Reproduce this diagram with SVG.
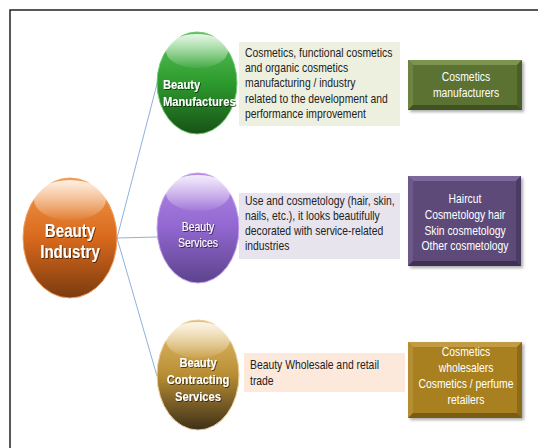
<svg xmlns="http://www.w3.org/2000/svg" width="538" height="448" viewBox="0 0 538 448">
<defs>
<style>
.frame{fill:none;stroke:#222;stroke-width:1.5}
.conn{stroke:#8fb2da;stroke-width:1;fill:none}
.desc{font-family:"Liberation Sans",Arial,sans-serif;font-size:12.5px;fill:#222}
.wt{font-family:"Liberation Sans",Arial,sans-serif;font-size:12.5px;fill:#fff;text-anchor:middle}
.et{font-family:"Liberation Sans",Arial,sans-serif;fill:#fff;font-weight:bold}
</style>
<filter id="blur" x="-20%" y="-20%" width="140%" height="140%"><feGaussianBlur stdDeviation="1.5"/></filter>
<filter id="tsh" x="-10%" y="-10%" width="120%" height="130%"><feDropShadow dx="1" dy="1" stdDeviation="0.4" flood-color="#000" flood-opacity="0.6"/></filter>
<linearGradient id="gOr" x1="0" y1="0" x2="0" y2="1"><stop offset="0" stop-color="#f59a4a"/><stop offset="0.5" stop-color="#d8691d"/><stop offset="1" stop-color="#7c3b0e"/></linearGradient>
<linearGradient id="gPu" x1="0" y1="0" x2="0" y2="1"><stop offset="0" stop-color="#b58ae8"/><stop offset="0.5" stop-color="#9166cf"/><stop offset="1" stop-color="#5c448c"/></linearGradient>
<linearGradient id="gGr" x1="0" y1="0" x2="0" y2="1"><stop offset="0" stop-color="#5cc45c"/><stop offset="0.5" stop-color="#2d9a2d"/><stop offset="1" stop-color="#175217"/></linearGradient>
<linearGradient id="gGo" x1="0" y1="0" x2="0" y2="1"><stop offset="0" stop-color="#e8c070"/><stop offset="0.5" stop-color="#b88e34"/><stop offset="1" stop-color="#3e3018"/></linearGradient>
<linearGradient id="hl" x1="0" y1="0" x2="0" y2="1"><stop offset="0" stop-color="#fff" stop-opacity="0.85"/><stop offset="1" stop-color="#fff" stop-opacity="0.05"/></linearGradient>
</defs>

<path class="frame" d="M10 448 V10 H538"/>

<g id="connectors">
<line class="conn" x1="117" y1="238" x2="157" y2="84"/>
<line class="conn" x1="117" y1="238" x2="158" y2="237"/>
<line class="conn" x1="117" y1="238" x2="157" y2="376"/>
</g>

<g id="beauty-industry">
<ellipse cx="70" cy="238" rx="47" ry="60" fill="url(#gOr)" stroke="#f2a060" stroke-width="1"/>
<ellipse cx="70" cy="200" rx="36" ry="20" fill="url(#hl)"/>
<text class="et" font-size="18" filter="url(#tsh)" text-anchor="middle" transform="translate(70 237) scale(0.84 1)"><tspan x="0" y="0">Beauty</tspan><tspan x="0" y="21">Industry</tspan></text>
</g>

<g id="beauty-manufactures">
<ellipse cx="197" cy="83" rx="40" ry="51" fill="url(#gGr)" stroke="#6ccc6c" stroke-width="1"/>
<ellipse cx="197" cy="51" rx="31" ry="17" fill="url(#hl)"/>
<text class="et" font-size="13" filter="url(#tsh)" transform="translate(163 89) scale(0.86 1)"><tspan x="0" y="0">Beauty</tspan><tspan x="0" y="17">Manufactures</tspan></text>
</g>
<g id="desc-manufactures">
<rect x="239" y="42" width="161" height="84" fill="#eef0df"/>
<text class="desc" transform="translate(245 57) scale(0.83 1)"><tspan x="0" y="0">Cosmetics, functional cosmetics</tspan><tspan x="0" y="15.2">and organic cosmetics</tspan><tspan x="0" y="30.4">manufacturing / industry</tspan><tspan x="0" y="45.6">related to the development and</tspan><tspan x="0" y="60.8">performance improvement</tspan></text>
</g>
<g id="box-manufacturers">
<rect x="410" y="62" width="114" height="50" fill="#888" filter="url(#blur)" opacity="0.7"/>
<rect x="408" y="60" width="114" height="50" fill="#5b7233"/>
<polygon points="408,60 522,60 517,65 413,65" fill="#7d9350"/>
<polygon points="408,60 413,65 413,105 408,110" fill="#6c8342"/>
<polygon points="522,60 522,110 517,105 517,65" fill="#4a5f28"/>
<polygon points="408,110 522,110 517,105 413,105" fill="#3f5222"/>
<text class="wt" transform="translate(466 81) scale(0.83 1)"><tspan x="0" y="0">Cosmetics</tspan><tspan x="0" y="16">manufacturers</tspan></text>
</g>

<g id="beauty-services">
<ellipse cx="198" cy="228" rx="41" ry="55" fill="url(#gPu)" stroke="#c3a2ee" stroke-width="1"/>
<ellipse cx="198" cy="193" rx="32" ry="18" fill="url(#hl)"/>
<text class="wt" font-size="12.5" filter="url(#tsh)" transform="translate(198 231) scale(0.84 1)"><tspan x="0" y="0">Beauty</tspan><tspan x="0" y="16">Services</tspan></text>
</g>
<g id="desc-services">
<rect x="239" y="193" width="161" height="66" fill="#e8e4ee"/>
<text class="desc" transform="translate(245 205) scale(0.83 1)"><tspan x="0" y="0">Use and cosmetology (hair, skin,</tspan><tspan x="0" y="15">nails, etc.), it looks beautifully</tspan><tspan x="0" y="30">decorated with service-related</tspan><tspan x="0" y="45">industries</tspan></text>
</g>
<g id="box-services">
<rect x="410" y="178" width="113" height="90" fill="#888" filter="url(#blur)" opacity="0.7"/>
<rect x="408" y="176" width="113" height="90" fill="#5d4a79"/>
<polygon points="408,176 521,176 516,181 413,181" fill="#7c689a"/>
<polygon points="408,176 413,181 413,261 408,266" fill="#6c5989"/>
<polygon points="521,176 521,266 516,261 516,181" fill="#4b3b63"/>
<polygon points="408,266 521,266 516,261 413,261" fill="#3f3154"/>
<text class="wt" transform="translate(465 203) scale(0.83 1)"><tspan x="0" y="0">Haircut</tspan><tspan x="0" y="16">Cosmetology hair</tspan><tspan x="0" y="32">Skin cosmetology</tspan><tspan x="0" y="47">Other cosmetology</tspan></text>
</g>

<g id="beauty-contracting">
<ellipse cx="198" cy="375" rx="41" ry="55" fill="url(#gGo)" stroke="#ead09a" stroke-width="1"/>
<ellipse cx="198" cy="340" rx="32" ry="18" fill="url(#hl)"/>
<text class="et" font-size="13" filter="url(#tsh)" text-anchor="middle" transform="translate(198 367) scale(0.86 1)"><tspan x="0" y="0">Beauty</tspan><tspan x="0" y="17">Contracting</tspan><tspan x="0" y="34">Services</tspan></text>
</g>
<g id="desc-contracting">
<rect x="244" y="353" width="161" height="39" fill="#fde9dc"/>
<text class="desc" transform="translate(250 369) scale(0.83 1)"><tspan x="0" y="0">Beauty Wholesale and retail</tspan><tspan x="0" y="16">trade</tspan></text>
</g>
<g id="box-contracting">
<rect x="410" y="344" width="114" height="76" fill="#888" filter="url(#blur)" opacity="0.7"/>
<rect x="408" y="342" width="114" height="76" fill="#a8801f"/>
<polygon points="408,342 522,342 517,347 413,347" fill="#c29c45"/>
<polygon points="408,342 413,347 413,413 408,418" fill="#b58e33"/>
<polygon points="522,342 522,418 517,413 517,347" fill="#8c6a18"/>
<polygon points="408,418 522,418 517,413 413,413" fill="#7a5c14"/>
<text class="wt" transform="translate(466 356) scale(0.83 1)"><tspan x="0" y="0">Cosmetics</tspan><tspan x="0" y="16">wholesalers</tspan><tspan x="0" y="32">Cosmetics / perfume</tspan><tspan x="0" y="48">retailers</tspan></text>
</g>
</svg>
